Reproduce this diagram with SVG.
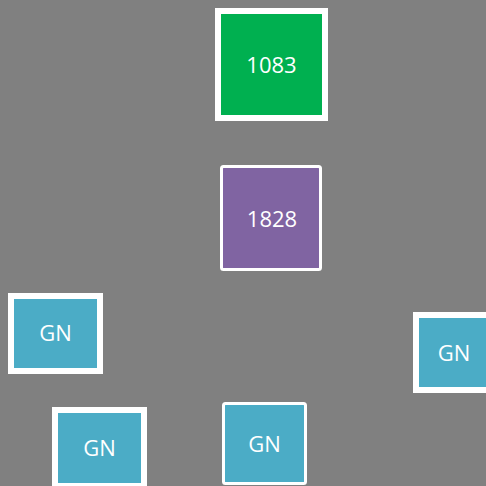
<svg xmlns="http://www.w3.org/2000/svg" width="486" height="486" viewBox="0 0 486 486">
<style>
.lbl{font-family:"Open Sans","Noto Sans",sans-serif;font-size:22px;fill:#fff;text-anchor:middle;dominant-baseline:central}
.gn{fill:#4BACC6;stroke:#fff}
</style>
<rect width="486" height="486" fill="#808080"/>
<g id="connectors"></g>
<g id="n1083"><rect x="218" y="11" width="107" height="107" fill="#00B050" stroke="#fff" stroke-width="6"/><text class="lbl" x="271.5" y="64">1083</text></g>
<g id="n1828"><rect x="221.5" y="166.5" width="99" height="103" rx="2" fill="#8064A2" stroke="#fff" stroke-width="3"/><text class="lbl" x="272" y="218">1828</text></g>
<g id="gn1"><rect class="gn" x="11" y="296" width="89" height="75" stroke-width="6"/><text class="lbl" x="55.5" y="332">GN</text></g>
<g id="gn2"><rect class="gn" x="416" y="315" width="76" height="75" stroke-width="6"/><text class="lbl" x="454" y="352">GN</text></g>
<g id="gn3"><rect class="gn" x="55" y="410" width="89" height="76" stroke-width="6"/><text class="lbl" x="99.5" y="447">GN</text></g>
<g id="gn4"><rect class="gn" x="223.5" y="403.5" width="82" height="80" rx="2" stroke-width="3"/><text class="lbl" x="264.5" y="443">GN</text></g>
</svg>
